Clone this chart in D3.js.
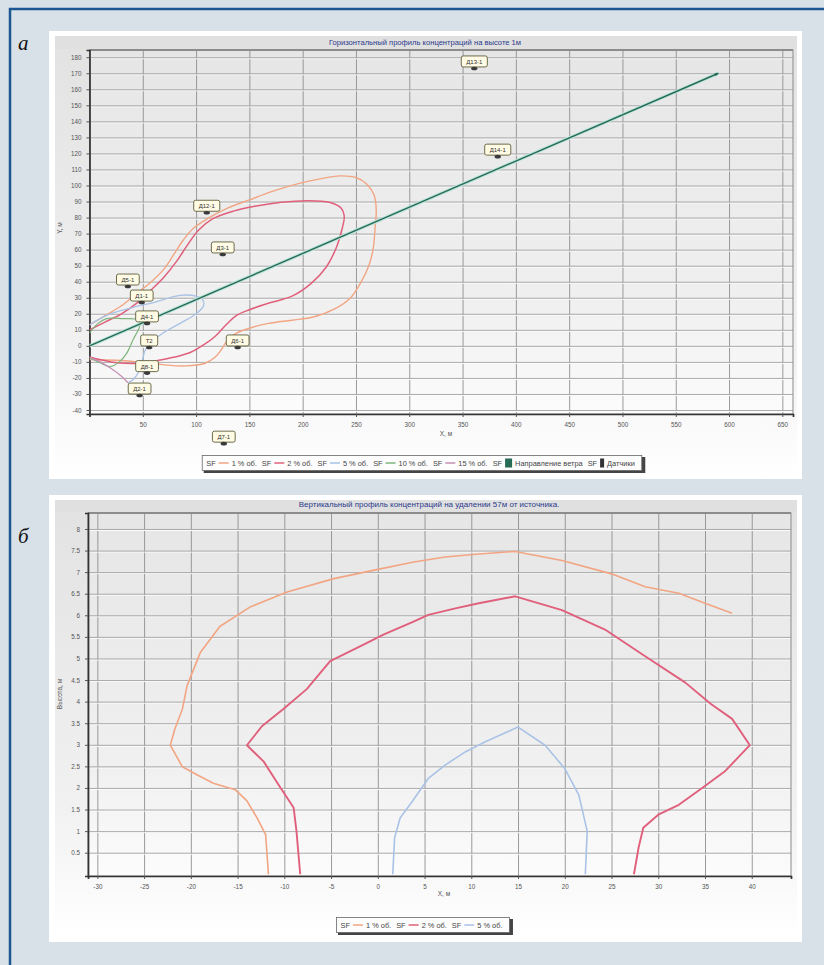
<!DOCTYPE html>
<html>
<head>
<meta charset="utf-8">
<script src="https://cdn.jsdelivr.net/npm/d3@7"></script>
<style>
  body { margin: 0; background: #d9e1e8; }
  svg { display: block; font-family: "Liberation Sans", Arial, sans-serif; }
</style>
</head>
<body>
<svg id="fig" width="824" height="965"></svg>
<script>
// ---------- Горизонтальный профиль (а) ----------
const xTicksA = [50, 100, 150, 200, 250, 300, 350, 400, 450, 500, 550, 600, 650];
const yTicksA = [-40, -30, -20, -10, 0, 10, 20, 30, 40, 50, 60, 70, 80, 90, 100, 110, 120, 130, 140, 150, 160, 170, 180];

// изолинии концентрации, [X, м ; Y, м]
const contour1A = [[0, 13], [15, 19], [30, 25], [45, 33], [58, 40], [70, 48], [80, 58], [88, 66], [97, 73], [110, 79], [130, 86], [150, 91], [170, 96], [195, 101], [215, 104], [235, 106], [250, 105], [260, 101], [267, 94], [269, 85], [268, 74], [266, 60], [262, 50], [255, 40], [245, 30], [230, 23], [210, 18], [190, 16], [168, 14], [150, 11], [138, 8], [130, 4], [124, -2], [118, -7], [108, -11], [90, -12.5], [72, -12], [60, -11], [45, -10], [25, -9], [0, -8.5]];
const contour2A = [[0, 10], [15, 15], [30, 20], [45, 27], [58, 35], [70, 43], [82, 53], [92, 63], [102, 72], [115, 79], [135, 84], [155, 87], [180, 89.5], [205, 90.5], [225, 89.5], [236, 86], [239, 81], [237, 73], [232, 62], [222, 49], [208, 39], [190, 31], [170, 27], [150, 22.5], [138, 19], [128, 13], [118, 6], [108, 1], [95, -4], [80, -7], [65, -9], [53, -11], [40, -11], [20, -10], [0, -7]];
const contour5A = [[0, 13], [10, 17], [22, 20.5], [41, 24], [60, 27], [85, 31.5], [100, 31], [106, 29], [107, 25], [100, 20], [85, 14], [69, 8], [57, 2], [52, -3], [50, -8], [47, -15], [41, -21], [36, -23]];
const contour10A = [[0, 8], [8, 14], [16, 17], [31, 17], [47, 16], [47, 12], [41, 4], [35, -4.5], [28, -10], [19, -13], [10, -10.5], [0, -7.5]];
const contour15A = [[0, -7], [10, -10], [20, -14], [30, -19], [36, -23]];

// направление ветра
const windA = [[0, 0], [590, 170]];

// датчики
const sensorNames = ["Д13-1", "Д14-1", "Д12-1", "Д3-1", "Д5-1", "Д1-1", "Д4-1", "Т2", "Д6-1", "Д8-1", "Д2-1", "Д7-1"];
const sensorX = [361, 383, 110, 125, 36, 49, 54, 56, 139, 54, 47, 126];
const sensorY = [173, 118, 83, 57, 37, 27, 14, -1, -1, -17, -31, -61];

// ---------- Вертикальный профиль (б) ----------
const xTicksB = [-30, -25, -20, -15, -10, -5, 0, 5, 10, 15, 20, 25, 30, 35, 40];
const yTicksB = [0.5, 1, 1.5, 2, 2.5, 3, 3.5, 4, 4.5, 5, 5.5, 6, 6.5, 7, 7.5, 8];

const contour1B = [[-11.7, 0], [-12.0, 0.92], [-12.9, 1.3], [-14.0, 1.7], [-15.25, 1.96], [-17.6, 2.11], [-19.3, 2.3], [-20.9, 2.49], [-22.2, 2.99], [-21.7, 3.37], [-20.9, 3.83], [-20.4, 4.37], [-19.0, 5.13], [-16.9, 5.74], [-13.6, 6.2], [-9.7, 6.54], [-4.7, 6.85], [-0.5, 7.04], [3.7, 7.23], [7.2, 7.35], [10.8, 7.42], [14.7, 7.48], [19.7, 7.27], [25.0, 6.96], [28.6, 6.66], [32.2, 6.51], [35.0, 6.28], [37.9, 6.05]];
const contour2B = [[-8.3, 0], [-8.7, 1.0], [-9.0, 1.54], [-10.6, 2.07], [-12.2, 2.61], [-14.0, 2.99], [-12.4, 3.43], [-10.1, 3.83], [-7.6, 4.29], [-5.1, 4.94], [-1.9, 5.28], [0.6, 5.55], [3.7, 5.84], [5.4, 6.01], [8.3, 6.16], [10.8, 6.28], [14.7, 6.44], [19.7, 6.12], [24.3, 5.67], [28.6, 5.05], [32.9, 4.44], [35.6, 3.95], [37.9, 3.6], [39.8, 2.99], [37.1, 2.38], [34.7, 2.0], [32.2, 1.61], [30.0, 1.38], [28.4, 1.08], [27.9, 0.62], [27.4, 0]];
const contour5B = [[1.6, 0], [1.8, 0.85], [2.4, 1.31], [3.7, 1.69], [5.4, 2.22], [7.2, 2.53], [9.4, 2.84], [11.5, 3.07], [15.0, 3.41], [17.9, 2.99], [20.0, 2.45], [21.5, 1.84], [22.4, 1.0], [22.2, 0]];

const legendLabelsA = ["1 % об.", "2 % об.", "5 % об.", "10 % об.", "15 % об.", "Направление ветра", "Датчики"];
const legendLabelsB = ["1 % об.", "2 % об.", "5 % об."];

const col1 = "#f2a583", col2 = "#e0607c", col5 = "#a9c2e6", col10 = "#7fb47d", col15 = "#c48fb6";
const colWind = "#256b55", colSensor = "#3a3a3a";

const svg = d3.select("#fig");

// фон и рамка
svg.append("rect").attr("width", 824).attr("height", 965).attr("fill", "#d9e1e8");
svg.append("path").attr("d", "M10,970 L10,9 L830,9").attr("fill", "none")
  .attr("stroke", "#1d5793").attr("stroke-width", 2.5);

const defs = svg.append("defs");
const bgGrad = defs.append("linearGradient").attr("id", "bgGrad").attr("x1", 0).attr("x2", 0).attr("y1", 0).attr("y2", 1);
bgGrad.append("stop").attr("offset", "0%").attr("stop-color", "#e2e2e2");
bgGrad.append("stop").attr("offset", "70%").attr("stop-color", "#f1f1f1");
bgGrad.append("stop").attr("offset", "100%").attr("stop-color", "#ffffff");
const plotGrad = defs.append("linearGradient").attr("id", "plotGrad").attr("x1", 0).attr("x2", 0).attr("y1", 0).attr("y2", 1);
plotGrad.append("stop").attr("offset", "0%").attr("stop-color", "#e6e6e6");
plotGrad.append("stop").attr("offset", "70%").attr("stop-color", "#f0f0f0");
plotGrad.append("stop").attr("offset", "100%").attr("stop-color", "#fcfcfc");

svg.append("text").attr("x", 18).attr("y", 50).attr("font-family", "'Liberation Serif', 'DejaVu Serif', serif")
  .attr("font-style", "italic").attr("font-size", 21).attr("fill", "#111").text("а");
svg.append("text").attr("x", 18).attr("y", 543).attr("font-family", "'Liberation Serif', 'DejaVu Serif', serif")
  .attr("font-style", "italic").attr("font-size", 21).attr("fill", "#111").text("б");

function drawChart(o) {
  const g = svg.append("g");
  const { x, y } = o;
  const [x0, x1] = x.range();
  const [yb, yt] = y.range();

  g.append("rect").attr("x", o.panel[0]).attr("y", o.panel[1]).attr("width", o.panel[2]).attr("height", o.panel[3]).attr("fill", "#ffffff");
  g.append("rect").attr("x", o.panel[0] + 6).attr("y", o.panel[1] + 5).attr("width", o.panel[2] - 11).attr("height", o.panel[3] - 10).attr("fill", "url(#bgGrad)");
  g.append("rect").attr("x", o.panel[0] + 6).attr("y", o.panel[1] + 5).attr("width", o.panel[2] - 11).attr("height", yt - o.panel[1] - 6).attr("fill", "#e0e0e0");

  g.append("text").attr("x", o.titleX).attr("y", o.titleY).attr("text-anchor", "middle")
    .attr("font-size", o.titleSize).attr("fill", "#2b3a8c").text(o.title);

  g.append("rect").attr("x", x0).attr("y", yt).attr("width", x1 - x0).attr("height", yb - yt).attr("fill", "url(#plotGrad)");

  // сетка
  const gx = g.append("g").attr("transform", `translate(0,${yt})`)
    .call(d3.axisBottom(x).tickValues(o.xTicks).tickSize(yb - yt).tickFormat(""));
  gx.select(".domain").remove();
  gx.selectAll("line").attr("stroke", "#8e8e8e").attr("stroke-width", 0.9);
  const gy2 = g.append("g").attr("transform", `translate(${x0},1)`)
    .call(d3.axisRight(y).tickValues(o.yTicks).tickSize(x1 - x0).tickFormat(""));
  gy2.select(".domain").remove();
  gy2.selectAll("line").attr("stroke", "#fbfbfb").attr("stroke-width", 1);
  const gy = g.append("g").attr("transform", `translate(${x0},0)`)
    .call(d3.axisRight(y).tickValues(o.yTicks).tickSize(x1 - x0).tickFormat(""));
  gy.select(".domain").remove();
  gy.selectAll("line").attr("stroke", "#a2a2a2").attr("stroke-width", 0.9);

  // рамка области построения
  g.append("rect").attr("x", x0).attr("y", yt).attr("width", x1 - x0).attr("height", yb - yt)
    .attr("fill", "none").attr("stroke", "#8a8a8a").attr("stroke-width", 1);
  g.append("line").attr("x1", x0).attr("x2", x1).attr("y1", yt).attr("y2", yt).attr("stroke", "#8c8c8c").attr("stroke-width", 2);

  // оси
  const ax = g.append("g").attr("transform", `translate(0,${yb})`)
    .call(d3.axisBottom(x).tickValues(o.xTicks).tickSize(3).tickPadding(6).tickFormat(d => String(d)));
  const ay = g.append("g").attr("transform", `translate(${x0},0)`)
    .call(d3.axisLeft(y).tickValues(o.yTicks).tickSize(3).tickPadding(5).tickFormat(d => String(d)));
  [ax, ay].forEach(a => {
    a.select(".domain").attr("stroke", "#333").attr("stroke-width", 1.7);
    a.selectAll(".tick line").attr("stroke", "#555");
    a.selectAll("text").attr("font-size", 6.3).attr("fill", "#555").attr("font-family", "'Liberation Sans', Arial, sans-serif");
  });

  g.append("text").attr("x", o.xLabelPos[0]).attr("y", o.xLabelPos[1]).attr("text-anchor", "middle")
    .attr("font-size", 6.5).attr("fill", "#555").text(o.xLabel);
  g.append("text").attr("transform", `translate(${o.yLabelPos[0]},${o.yLabelPos[1]}) rotate(-90)`).attr("text-anchor", "middle")
    .attr("font-size", 6.5).attr("fill", "#555").text(o.yLabel);

  const clipId = o.id + "clip";
  defs.append("clipPath").attr("id", clipId).append("rect")
    .attr("x", x0).attr("y", yt).attr("width", x1 - x0).attr("height", yb - yt);
  const plot = g.append("g").attr("clip-path", `url(#${clipId})`);
  return { g, plot };
}

function drawLegend(g, cx, cy, items) {
  const lg = g.append("g");
  const fs = 7.4;
  let cur = 0;
  const row = lg.append("g");
  items.forEach(it => {
    const t1 = row.append("text").attr("x", cur).attr("y", 2.6).attr("font-size", fs).attr("fill", "#444").text("SF");
    cur += t1.node().getComputedTextLength() + 3;
    if (it.type === "line") {
      row.append("line").attr("x1", cur).attr("x2", cur + 10).attr("y1", 0).attr("y2", 0)
        .attr("stroke", it.color).attr("stroke-width", 1.5);
      cur += 13;
    } else {
      row.append("rect").attr("x", cur).attr("y", -4.5).attr("width", it.size).attr("height", 9).attr("fill", it.color);
      cur += it.size + 3;
    }
    const t2 = row.append("text").attr("x", cur).attr("y", 2.6).attr("font-size", fs).attr("fill", "#444").text(it.label);
    cur += t2.node().getComputedTextLength() + 5;
  });
  const w = cur + 6;
  lg.insert("rect", ":first-child").attr("x", -4).attr("y", -7.5).attr("width", w + 2).attr("height", 16)
    .attr("fill", "#444").attr("transform", "translate(1.5,1.5)");
  lg.insert("rect", "g").attr("x", -4).attr("y", -7.5).attr("width", w).attr("height", 15)
    .attr("fill", "#fdfdfd").attr("stroke", "#666").attr("stroke-width", 0.8);
  lg.attr("transform", `translate(${cx - w / 2 + 4},${cy})`);
}

// ===== а =====
const xA = d3.scaleLinear().domain([0, 660]).range([89.5, 793]);
const yA = d3.scaleLinear().domain([-42.5, 184.5]).range([414, 50]);
const chA = drawChart({
  id: "a", x: xA, y: yA, xTicks: xTicksA, yTicks: yTicksA,
  panel: [49, 31, 753, 448],
  title: "Горизонтальный профиль концентраций на высоте 1м", titleX: 425, titleY: 45, titleSize: 7.6,
  xLabel: "X, м", xLabelPos: [446, 436], yLabel: "Y, м", yLabelPos: [62, 228]
});

const smooth = d3.line().x(d => xA(d[0])).y(d => yA(d[1])).curve(d3.curveCatmullRom.alpha(0.5));
[[contour1A, col1, 1.4], [contour2A, col2, 1.5], [contour5A, col5, 1.3], [contour10A, col10, 1.2], [contour15A, col15, 1.2]]
  .forEach(([pts, c, w]) => {
    chA.plot.append("path").attr("d", smooth(pts)).attr("fill", "none").attr("stroke", c).attr("stroke-width", w);
  });

const straightA = d3.line().x(d => xA(d[0])).y(d => yA(d[1]));
chA.plot.append("path").attr("d", straightA(windA)).attr("stroke", "#bfe4dc").attr("stroke-width", 3.5).attr("fill", "none");
chA.plot.append("path").attr("d", straightA(windA)).attr("stroke", colWind).attr("stroke-width", 1.4).attr("fill", "none");
{
  const [ex, ey] = [xA(windA[1][0]), yA(windA[1][1])];
  const ang = Math.atan2(ey - yA(windA[0][1]), ex - xA(windA[0][0]));
  const s = 4;
  const p = [[ex, ey], [ex - s * Math.cos(ang - 0.45), ey - s * Math.sin(ang - 0.45)], [ex - s * Math.cos(ang + 0.45), ey - s * Math.sin(ang + 0.45)]];
  chA.plot.append("path").attr("d", "M" + p.join("L") + "Z").attr("fill", colWind);
}

// подписи датчиков
const sensors = sensorNames.map((n, i) => ({ name: n, x: sensorX[i], y: sensorY[i] }));
const sg = chA.g.append("g");
sensors.forEach(s => {
  const px = xA(s.x), py = yA(s.y);
  const grp = sg.append("g");
  const t = grp.append("text").attr("x", px).attr("y", py - 4.5).attr("text-anchor", "middle")
    .attr("font-size", 6).attr("fill", "#333").text(s.name);
  const tw = t.node().getComputedTextLength();
  grp.insert("rect", "text").attr("x", px - tw / 2 - 5).attr("y", py - 12.5).attr("width", tw + 10).attr("height", 11).attr("rx", 2)
    .attr("fill", "#fffbe4").attr("stroke", "#5d5d3c").attr("stroke-width", 0.9);
  grp.append("ellipse").attr("cx", px).attr("cy", py).attr("rx", 3.2).attr("ry", 1.8).attr("fill", colSensor);
});

drawLegend(chA.g, 422, 463, [
  { type: "line", color: col1, label: legendLabelsA[0] },
  { type: "line", color: col2, label: legendLabelsA[1] },
  { type: "line", color: col5, label: legendLabelsA[2] },
  { type: "line", color: col10, label: legendLabelsA[3] },
  { type: "line", color: col15, label: legendLabelsA[4] },
  { type: "square", color: colWind, size: 7, label: legendLabelsA[5] },
  { type: "square", color: "#333", size: 4, label: legendLabelsA[6] }
]);

// ===== б =====
const xB = d3.scaleLinear().domain([-31, 44.2]).range([88, 791]);
const yB = d3.scaleLinear().domain([-0.04, 8.37]).range([876, 513]);
const chB = drawChart({
  id: "b", x: xB, y: yB, xTicks: xTicksB, yTicks: yTicksB,
  panel: [49, 495, 753, 447],
  title: "Вертикальный профиль концентраций на удалении 57м от источника.", titleX: 429, titleY: 507, titleSize: 8,
  xLabel: "X, м", xLabelPos: [444, 896], yLabel: "Высота, м", yLabelPos: [62, 694]
});
const lineB = d3.line().x(d => xB(d[0])).y(d => yB(d[1]));
[[contour1B, col1, 1.6], [contour2B, col2, 1.9], [contour5B, col5, 1.6]].forEach(([pts, c, w]) => {
  chB.plot.append("path").attr("d", lineB(pts)).attr("fill", "none").attr("stroke", c).attr("stroke-width", w).attr("stroke-linejoin", "round");
});
drawLegend(chB.g, 423, 925, [
  { type: "line", color: col1, label: legendLabelsB[0] },
  { type: "line", color: col2, label: legendLabelsB[1] },
  { type: "line", color: col5, label: legendLabelsB[2] }
]);
</script>
</body>
</html>
